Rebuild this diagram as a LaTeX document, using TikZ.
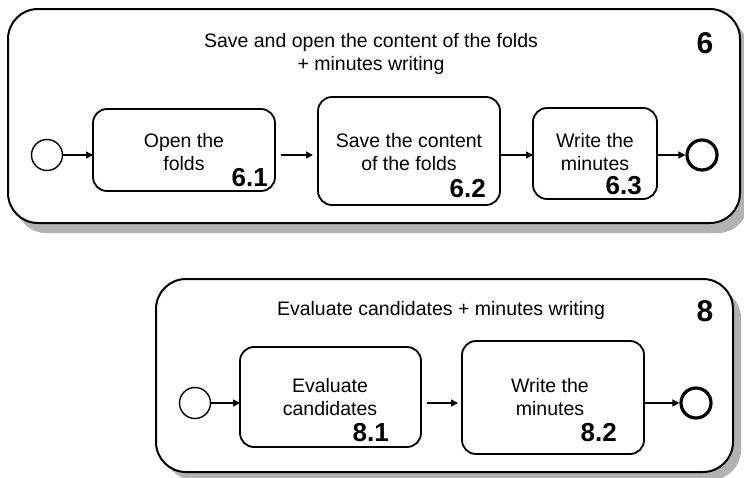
\documentclass[tikz,border=0pt]{standalone}
\usepackage{fontspec}
\setmainfont{Liberation Sans}
\usetikzlibrary{arrows.meta}
\begin{document}
\begin{tikzpicture}[x=1pt,y=-1pt,
  container/.style={draw=black,line width=2pt,fill=white,rounded corners=30pt},
  shadowbox/.style={fill=gray!60,rounded corners=30pt},
  task/.style={draw=black,line width=1.8pt,fill=white,rounded corners=14pt},
  startev/.style={draw=black,line width=1.4pt,circle,minimum size=31pt,inner sep=0pt},
  endev/.style={draw=black,line width=3.2pt,circle,minimum size=30pt,inner sep=0pt},
  flow/.style={line width=1.4pt,-{Triangle[length=7pt,width=7pt]}},
  txt/.style={font=\fontsize{19.5}{23}\selectfont,align=center,inner sep=0pt},
  num/.style={font=\fontsize{26}{28}\selectfont\bfseries,inner sep=0pt},
  bignum/.style={font=\fontsize{30}{32}\selectfont\bfseries,inner sep=0pt}]
\useasboundingbox (0,0) rectangle (744,477);
% ---------- container 6 ----------
\fill[shadowbox] (16,19) rectangle (748,233);
\draw[container] (8,9) rectangle (740,223);
\node[txt] (t6) at (371,54) {Save and open the content of the folds\\+ minutes writing};
\node[bignum] (n6) at (705,43) {6};
\node[startev] (s6) at (47,155) {};
\draw[task] (93,109) rectangle (275,191);
\coordinate (a61w) at (93,155); \coordinate (a61e) at (275,155);
\node[txt] (l61) at (184,152) {Open the\\folds};
\node[num,anchor=east] (k61) at (268,178) {6.1};
\draw[task] (318,97) rectangle (500,205);
\coordinate (a62w) at (318,155); \coordinate (a62e) at (500,155);
\node[txt] (l62) at (409,152) {Save the content\\of the folds};
\node[num,anchor=east] (k62) at (486,189) {6.2};
\draw[task] (533,108) rectangle (657,199);
\coordinate (a63w) at (533,155); \coordinate (a63e) at (657,155);
\node[txt] (l63) at (595,152) {Write the\\minutes};
\node[num,anchor=east] (k63) at (642,186) {6.3};
\node[endev] (e6) at (702,155) {};
\draw[flow] (s6) -- (a61w);
\draw[flow] ([xshift=6pt]a61e) -- ([xshift=-5pt]a62w);
\draw[flow] (a62e) -- (a63w);
\draw[flow] (a63e) -- (e6);
% ---------- container 8 ----------
\fill[shadowbox] (164,288) rectangle (741,480);
\draw[container] (156,279) rectangle (733,472);
\node[txt] (t8) at (441,310) {Evaluate candidates + minutes writing};
\node[bignum] (n8) at (705,311) {8};
\node[startev] (s8) at (195,403) {};
\draw[task] (240,347) rectangle (421,447);
\coordinate (a81w) at (240,403); \coordinate (a81e) at (421,403);
\node[txt] (l81) at (330,397) {Evaluate\\candidates};
\node[num,anchor=east] (k81) at (389,433) {8.1};
\draw[task] (462,341) rectangle (644,454);
\coordinate (a82w) at (462,403); \coordinate (a82e) at (644,403);
\node[txt] (l82) at (550,397) {Write the\\minutes};
\node[num,anchor=east] (k82) at (617,433) {8.2};
\node[endev] (e8) at (696,403) {};
\draw[flow] (s8) -- (a81w);
\draw[flow] ([xshift=6pt]a81e) -- ([xshift=-4pt]a82w);
\draw[flow] (a82e) -- (e8);
\end{tikzpicture}
\end{document}
